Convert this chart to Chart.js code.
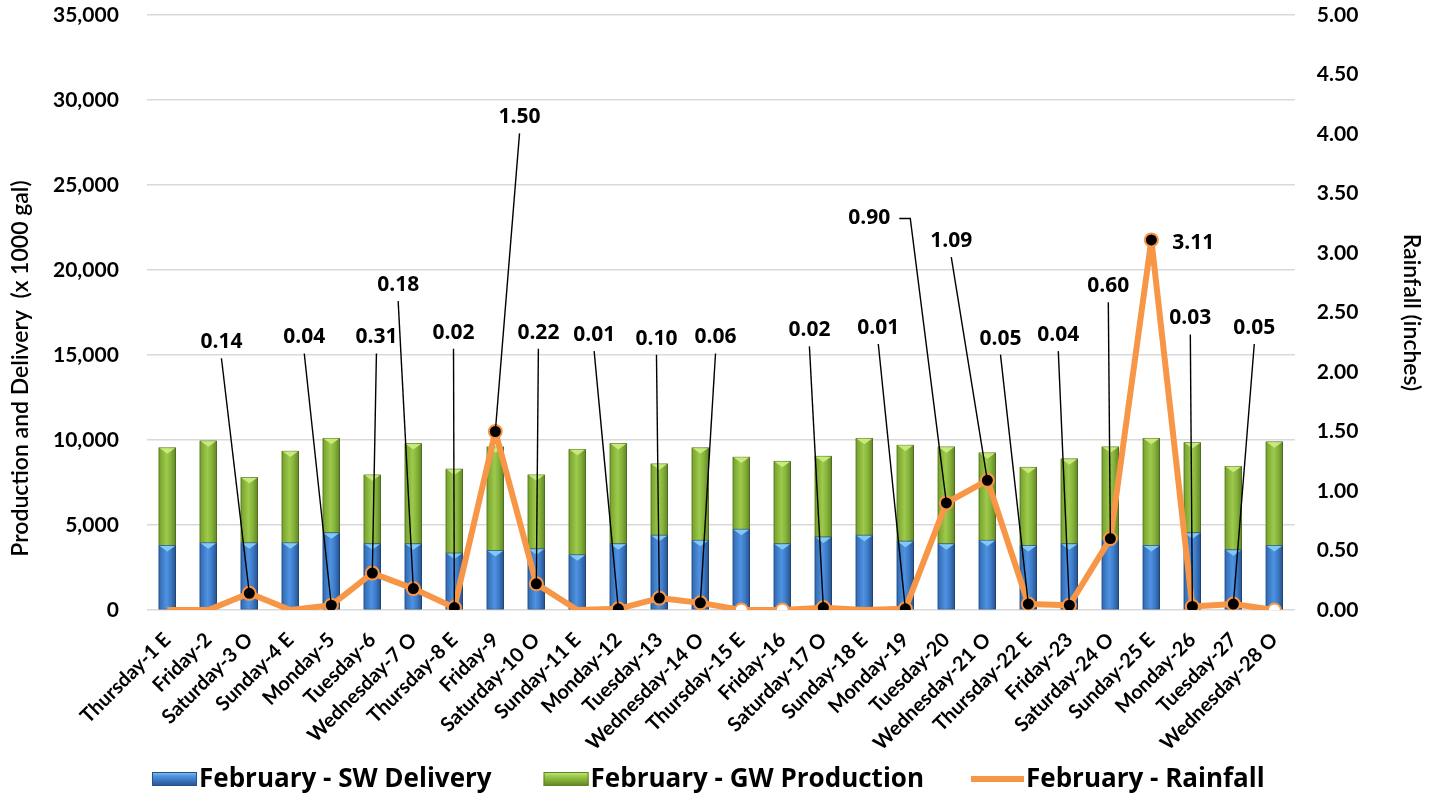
<!DOCTYPE html>
<html>
<head>
<meta charset="utf-8">
<script src="https://cdn.jsdelivr.net/npm/chart.js@4.4.1/dist/chart.umd.min.js"></script>
<style>
  html, body { margin: 0; padding: 0; background: #ffffff; }
  #wrap { width: 1437px; height: 796px; position: relative; }
</style>
</head>
<body>
<div id="wrap"><canvas id="c" width="1437" height="796"></canvas></div>
<script>
// ---- data ----
const categories = [
  'Thursday-1 E','Friday-2','Saturday-3 O','Sunday-4 E','Monday-5','Tuesday-6','Wednesday-7 O',
  'Thursday-8 E','Friday-9','Saturday-10 O','Sunday-11 E','Monday-12','Tuesday-13','Wednesday-14 O',
  'Thursday-15 E','Friday-16','Saturday-17 O','Sunday-18 E','Monday-19','Tuesday-20','Wednesday-21 O',
  'Thursday-22 E','Friday-23','Saturday-24 O','Sunday-25 E','Monday-26','Tuesday-27','Wednesday-28 O'
];
const swDelivery = [3800,3950,3950,3950,4550,3900,3900,3350,3500,3600,3250,3900,4400,4100,
                    4750,3900,4300,4400,4050,3900,4100,3800,3900,4100,3800,4550,3550,3800];
const gwProduction = [5750,6000,3850,5400,5550,4050,5900,4950,6100,4350,6200,5900,4200,5450,
                      4250,4850,4750,5700,5650,5700,5150,4600,5000,5500,6300,5300,4900,6100];
const rainfall = [0,0,0.14,0,0.04,0.31,0.18,0.02,1.50,0.22,0,0.01,0.10,0.06,
                  0,0,0.02,0,0.01,0.90,1.09,0.05,0.04,0.60,3.11,0.03,0.05,0];
const leftTicks = [0,5000,10000,15000,20000,25000,30000,35000];
const rightTicks = [0,0.5,1,1.5,2,2.5,3,3.5,4,4.5,5];
const seriesNames = ['February - SW Delivery','February - GW Production','February - Rainfall'];
const leftTitleText = 'Production and Delivery  (x 1000 gal)';
const rightTitleText = 'Rainfall (inches)';

// ---- style / layout config (not data) ----
const hollowZeroDays = ['Thursday-15 E','Friday-16','Wednesday-28 O'];
// label placement: [category offset, rainfall-axis height, mode]
const labelSpots = {
  2:[-0.68,2.25], 4:[-0.66,2.29], 5:[0.10,2.29], 6:[-0.37,2.73], 7:[-0.02,2.33],
  8:[0.59,4.14], 9:[0.05,2.33], 11:[-0.59,2.31], 12:[-0.07,2.28], 13:[0.37,2.29],
  16:[-0.34,2.35], 18:[-0.66,2.37], 19:[-1.88,3.29,'side'], 20:[-0.88,3.10],
  21:[-0.68,2.28], 22:[-0.27,2.31], 23:[-0.05,2.72], 24:[1.02,3.08,'none'],
  25:[-0.05,2.45], 26:[0.51,2.37]
};
const ORANGE = '#f79646';
const barStyles = [
  { base:'#3d7bc8', edgeL:'#3068ae', mid:'#4f92e2', edgeR:'#25508a', cap:'#82caf4' },
  { base:'#86b33b', edgeL:'#749e2d', mid:'#9dca4b', edgeR:'#5f8424', cap:'#c8ea7c' }
];
const TICK_FONT = { family:'Lato', weight:'bold', size:21 };
const legendGaps = [52, 47];

const barShade = {
  id: 'barShade',
  afterDatasetDraw(chart, args) {
    const ds = chart.data.datasets[args.index];
    if (ds.type !== 'bar') return;
    const st = barStyles[args.index];
    const ctx = chart.ctx;
    ctx.save();
    args.meta.data.forEach(el => {
      const { x, y, base, width } = el.getProps(['x','y','base','width'], true);
      const l = x - width/2, r = x + width/2;
      const g = ctx.createLinearGradient(l, 0, r, 0);
      g.addColorStop(0, st.edgeL);
      g.addColorStop(0.45, st.mid);
      g.addColorStop(0.7, st.base);
      g.addColorStop(1, st.edgeR);
      ctx.fillStyle = g;
      ctx.fillRect(l, y, width, base - y);
      ctx.strokeStyle = 'rgba(0,0,0,0.25)';
      ctx.lineWidth = 0.8;
      ctx.strokeRect(l + 0.4, y, width - 0.8, base - y);
      ctx.fillStyle = st.cap;
      ctx.beginPath();
      ctx.moveTo(l + 1, y + 0.5);
      ctx.lineTo(r - 1, y + 0.5);
      ctx.lineTo(x, y + 6);
      ctx.closePath();
      ctx.fill();
    });
    ctx.restore();
  }
};

const rainLabels = {
  id: 'rainLabels',
  afterDatasetsDraw(chart) {
    const ctx = chart.ctx;
    const meta = chart.getDatasetMeta(2);
    const xs = chart.scales.x, ys = chart.scales.y1;
    ctx.save();
    ctx.font = 'bold 21px "Open Sans"';
    ctx.fillStyle = '#000';
    ctx.strokeStyle = '#000';
    ctx.lineWidth = 1.4;
    rainfall.forEach((v, i) => {
      const spot = labelSpots[i];
      if (!spot || v <= 0) return;
      const pt = meta.data[i];
      const lx = xs.getPixelForValue(i + spot[0]);
      const ly = ys.getPixelForValue(spot[1]);
      const txt = v.toFixed(2);
      const w = ctx.measureText(txt).width;
      ctx.textAlign = 'center';
      ctx.textBaseline = 'middle';
      if (spot[2] === 'side') {
        const sx = lx + w/2 + 9, ex = sx + 11;
        ctx.beginPath();
        ctx.moveTo(sx, ly); ctx.lineTo(ex, ly); ctx.lineTo(pt.x, pt.y);
        ctx.stroke();
      } else if (spot[2] !== 'none') {
        ctx.beginPath();
        ctx.moveTo(lx, ly + 16); ctx.lineTo(pt.x, pt.y);
        ctx.stroke();
      }
      ctx.fillText(txt, lx, ly);
    });
    ctx.restore();
  }
};

const extras = {
  id: 'extras',
  afterDraw(chart) {
    const ctx = chart.ctx, a = chart.chartArea;
    // left axis title
    ctx.save();
    ctx.translate(21, (a.top + a.bottom) / 2 + 56);
    ctx.rotate(-Math.PI / 2);
    ctx.font = '600 23px Lato';
    ctx.fillStyle = '#000';
    ctx.textAlign = 'center';
    ctx.textBaseline = 'middle';
    ctx.fillText(leftTitleText, 0, 0);
    ctx.restore();
    // legend
    ctx.save();
    ctx.font = 'bold 26px "Open Sans"';
    ctx.textBaseline = 'middle';
    ctx.textAlign = 'left';
    const cy = chart.height - 17;
    let x = 152;
    seriesNames.forEach((name, k) => {
      if (k < 2) {
        const st = barStyles[k];
        const g = ctx.createLinearGradient(0, cy - 7, 0, cy + 7);
        g.addColorStop(0, st.cap);
        g.addColorStop(0.3, st.mid);
        g.addColorStop(1, st.edgeR);
        ctx.fillStyle = g;
        ctx.fillRect(x, cy - 7, 45, 14);
        ctx.strokeStyle = st.edgeR;
        ctx.lineWidth = 1;
        ctx.strokeRect(x + 0.5, cy - 6.5, 44, 13);
        x += 47;
      } else {
        ctx.strokeStyle = ORANGE;
        ctx.lineWidth = 6;
        ctx.beginPath();
        ctx.moveTo(x, cy); ctx.lineTo(x + 53, cy);
        ctx.stroke();
        x += 55;
      }
      ctx.fillStyle = '#000';
      ctx.fillText(name, x, cy + 1);
      x += ctx.measureText(name).width + (legendGaps[k] || 0);
    });
    ctx.restore();
  }
};

new Chart(document.getElementById('c'), {
  data: {
    labels: categories,
    datasets: [
      { type:'bar', label: seriesNames[0], data: swDelivery, backgroundColor: barStyles[0].base,
        yAxisID:'y', stack:'s', order: 2, barPercentage: 0.42, categoryPercentage: 1 },
      { type:'bar', label: seriesNames[1], data: gwProduction, backgroundColor: barStyles[1].base,
        yAxisID:'y', stack:'s', order: 2, barPercentage: 0.42, categoryPercentage: 1 },
      { type:'line', label: seriesNames[2], data: rainfall, yAxisID:'y1', order: 0,
        borderColor: ORANGE, borderWidth: 6, tension: 0, fill: false, borderJoinStyle: 'round',
        pointBorderColor: ORANGE, pointBorderWidth: 2,
        pointRadius: c => (rainfall[c.dataIndex] > 0 || hollowZeroDays.includes(categories[c.dataIndex])) ? 6.5 : 0,
        pointBackgroundColor: c => rainfall[c.dataIndex] > 0 ? '#000' : '#ffffff',
        pointHoverRadius: 6.5 }
    ]
  },
  options: {
    responsive: false,
    animation: false,
    layout: { padding: { left: 25, right: 0, top: 15, bottom: 0 } },
    plugins: {
      tooltip: { enabled: false },
      legend: { display: false }
    },
    scales: {
      x: {
        stacked: true,
        offset: true,
        grid: { display: false },
        border: { display: false },
        ticks: { color:'#000', font:{ family:'Lato', weight:'bold', size:20 },
                 minRotation:45, maxRotation:45, autoSkip:false, padding: 10 },
        afterFit: s => { s.paddingLeft = 0; s.paddingRight = 0; s.height = 186; }
      },
      y: {
        stacked: true,
        position: 'left',
        min: 0, max: 35000,
        afterBuildTicks: s => { s.ticks = leftTicks.map(v => ({ value: v })); },
        afterFit: s => { s.paddingTop = 0; s.paddingBottom = 0; },
        grid: { color:'#d9d9d9', lineWidth: 1.6, drawTicks: false },
        border: { display: false },
        ticks: { color:'#000', font: TICK_FONT, padding: 28,
                 callback: v => v.toLocaleString('en-US') }
      },
      y1: {
        position: 'right',
        min: 0, max: 5,
        afterBuildTicks: s => { s.ticks = rightTicks.map(v => ({ value: v })); },
        afterFit: s => { s.paddingTop = 0; s.paddingBottom = 0; },
        grid: { drawOnChartArea: false, drawTicks: false },
        border: { display: false },
        ticks: { color:'#000', font: TICK_FONT, padding: 22,
                 callback: v => Number(v).toFixed(2) },
        title: { display: true, text: rightTitleText, color:'#000',
                 font: { family:'Lato', weight:'600', size: 23 },
                 padding: { top: 12, bottom: 17 } }
      }
    }
  },
  plugins: [barShade, rainLabels, extras]
});
</script>
</body>
</html>
